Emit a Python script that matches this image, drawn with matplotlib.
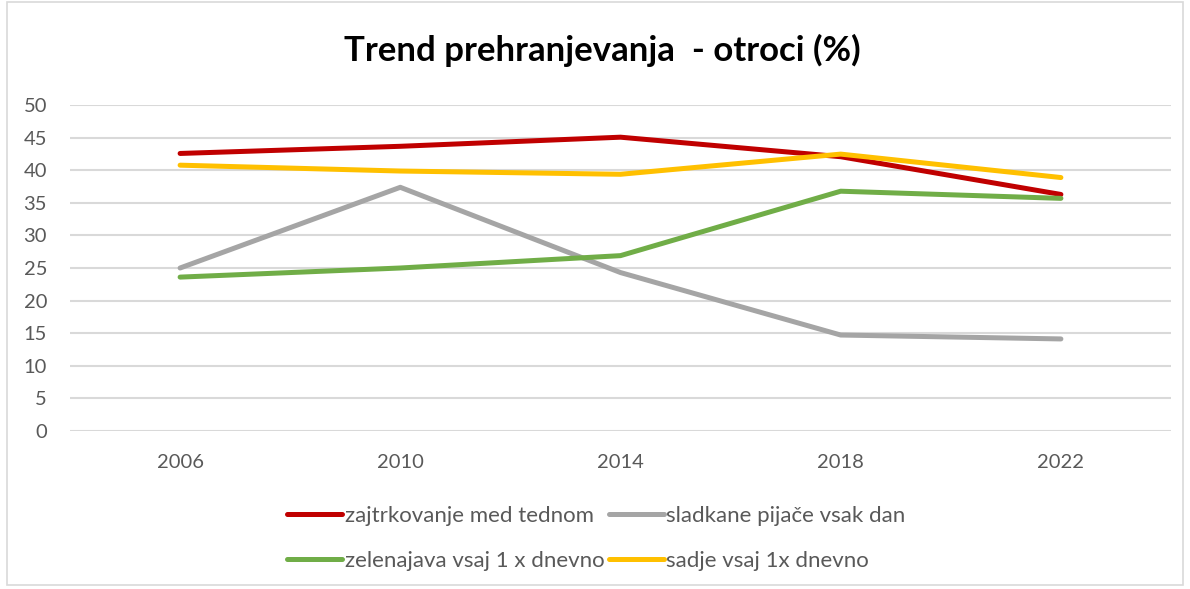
import matplotlib
matplotlib.use("Agg")
import matplotlib.pyplot as plt
import matplotlib.patches as mpatches

plt.rcParams["font.family"] = ["Lato", "DejaVu Sans"]

# Data
years = ["2006", "2010", "2014", "2018", "2022"]
zajtrk = [42.6, 43.7, 45.1, 42.1, 36.3]
sladke = [25.0, 37.4, 24.3, 14.7, 14.1]
zelenjava = [23.6, 25.0, 26.9, 36.8, 35.7]
sadje = [40.8, 39.9, 39.4, 42.5, 38.9]

labels = ["zajtrkovanje med tednom", "sladkane pijače vsak dan",
          "zelenajava vsaj 1 x dnevno", "sadje vsaj 1x dnevno"]
series = [zajtrk, sladke, zelenjava, sadje]
colors = ["#C00000", "#A5A5A5", "#70AD47", "#FFC000"]
TEXT = "#595959"

fig = plt.figure(figsize=(11.9, 5.89), dpi=100)
ax = fig.add_axes([70 / 1190, 158.3 / 589, 1101 / 1190, 325.4 / 589])

x = list(range(len(years)))
lines = []
for vals, lab, col in zip(series, labels, colors):
    ln, = ax.plot(x, vals, color=col, linewidth=3.6, label=lab,
                  solid_capstyle="round", solid_joinstyle="round")
    lines.append(ln)

ax.set_xlim(-0.5, len(years) - 0.5)
ax.set_ylim(0, 50)
ax.set_yticks(range(0, 51, 5))
ax.set_xticks(x)
ax.set_xticklabels(years)
ax.tick_params(axis="both", length=0, labelsize=14.5, colors=TEXT)
ax.tick_params(axis="x", pad=17)
ax.tick_params(axis="y", pad=16.5)
ax.grid(axis="y", color="#D9D9D9", linewidth=1.5)
ax.set_axisbelow(True)
for s in ax.spines.values():
    s.set_visible(False)

fig.text(0.506, 0.915, "Trend prehranjevanja  - otroci (%)", ha="center",
         va="center", fontsize=25, fontweight="bold", color="black")

# legend: row 1 red, gray; row 2 green, yellow (columns fill first)
order = [0, 2, 1, 3]
leg = fig.legend([lines[i] for i in order], [labels[i] for i in order],
                 loc="center", bbox_to_anchor=(0.501, 0.086), ncol=2,
                 frameon=False, fontsize=16, handlelength=2.5,
                 handletextpad=0.1, columnspacing=0.2, labelspacing=1.1)
for t in leg.get_texts():
    t.set_color(TEXT)

# outer chart border
fig.patches.append(mpatches.Rectangle((7 / 1190, 4 / 589), 1176 / 1190, 583 / 589,
                                      transform=fig.transFigure, fill=False,
                                      edgecolor="#D9D9D9", linewidth=1.2))

fig.savefig("out.png", dpi=100)
